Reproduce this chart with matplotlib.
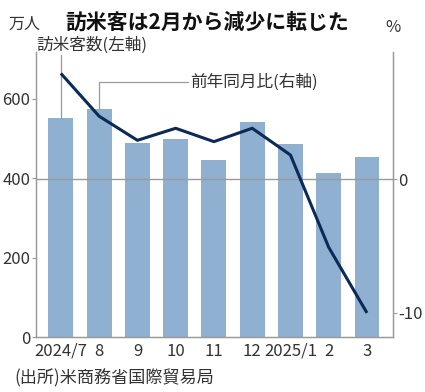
import matplotlib
matplotlib.use("Agg")
import matplotlib.pyplot as plt

months = ["2024/7", "8", "9", "10", "11", "12", "2025/1", "2", "3"]
visitors = [551, 574, 488, 498, 445, 542, 485, 412, 454]  # 万人
yoy = [7.9, 4.7, 2.9, 3.8, 2.8, 3.8, 1.8, -5.1, -10.0]  # %

JP = ["Noto Sans CJK JP", "DejaVu Sans"]
NUM = ["Liberation Sans Narrow", "Noto Sans CJK JP", "DejaVu Sans"]
TXT = "#333333"
GRAY = "#9a9a9a"
BAR = "#8fb0d0"
LINE = "#0c2a55"

W, H = 425, 392
fig = plt.figure(figsize=(W / 100, H / 100), dpi=100)

def fx(px):
    return px / W

def fy(py):
    return 1 - py / H

left, right, top, bottom = 36, 393, 52, 337
ax = fig.add_axes([fx(left), fy(bottom), fx(right - left), fy(top) - fy(bottom)])
ax2 = ax.twinx()

x = list(range(len(months)))
ax.bar(x, visitors, width=0.65, color=BAR, zorder=2)
ax.set_xlim(-0.65, 8.68)
ax.set_ylim(0, 717)
ax.set_yticks([0, 200, 400, 600])
ax.set_xticks(x)
ax.set_xticklabels(months)

ax2.set_ylim(-11.8, 9.5)
ax2.set_yticks([-10, 0])
ax2.set_yticklabels(["-10", "0"])
ax2.axhline(0, color=GRAY, lw=1.0, zorder=3)
ax2.plot(x, yoy, color=LINE, lw=2.2, zorder=4, solid_capstyle="butt")

for a in (ax, ax2):
    a.spines["top"].set_visible(False)
    for s in ("left", "right", "bottom"):
        a.spines[s].set_color(GRAY)
        a.spines[s].set_linewidth(0.9)
ax.tick_params(axis="y", length=3, color=GRAY, labelsize=12, labelcolor=TXT, pad=1)
ax.tick_params(axis="x", length=0, labelsize=12, labelcolor=TXT, pad=4)
ax2.tick_params(axis="y", length=3, color=GRAY, labelsize=12, labelcolor=TXT, pad=1)
for lab in ax.get_xticklabels() + ax.get_yticklabels() + ax2.get_yticklabels():
    lab.set_family(NUM)

ax.set_zorder(1)
ax2.set_zorder(2)
ax2.patch.set_visible(False)

# leader lines / annotations
ax.plot([0, 0], [visitors[0], 709], color=GRAY, lw=0.9, clip_on=False, zorder=5)
ax.text(-0.65, 735, "訪米客数(左軸)", family=JP, fontsize=12, color=TXT,
        ha="left", va="center", clip_on=False)
ax.plot([1, 1, 3.32], [visitors[1], 641, 641], color=GRAY, lw=0.9, zorder=5)
ax.text(3.37, 641, "前年同月比(右軸)", family=JP, fontsize=12, color=TXT,
        ha="left", va="center")

fig.text(fx(8), fy(24), "万人", family=JP, fontsize=11.5, color=TXT, ha="left", va="center")
fig.text(fx(65), fy(22), "訪米客は2月から減少に転じた", family=JP, fontsize=15,
         fontweight="bold", color="#111111", ha="left", va="center")
fig.text(fx(385), fy(28), "%", family=NUM, fontsize=12, color=TXT, ha="left", va="center")
fig.text(fx(14), fy(378), "(出所)米商務省国際貿易局", family=JP, fontsize=12.3,
         color=TXT, ha="left", va="center")

fig.savefig("out.png", dpi=100)
